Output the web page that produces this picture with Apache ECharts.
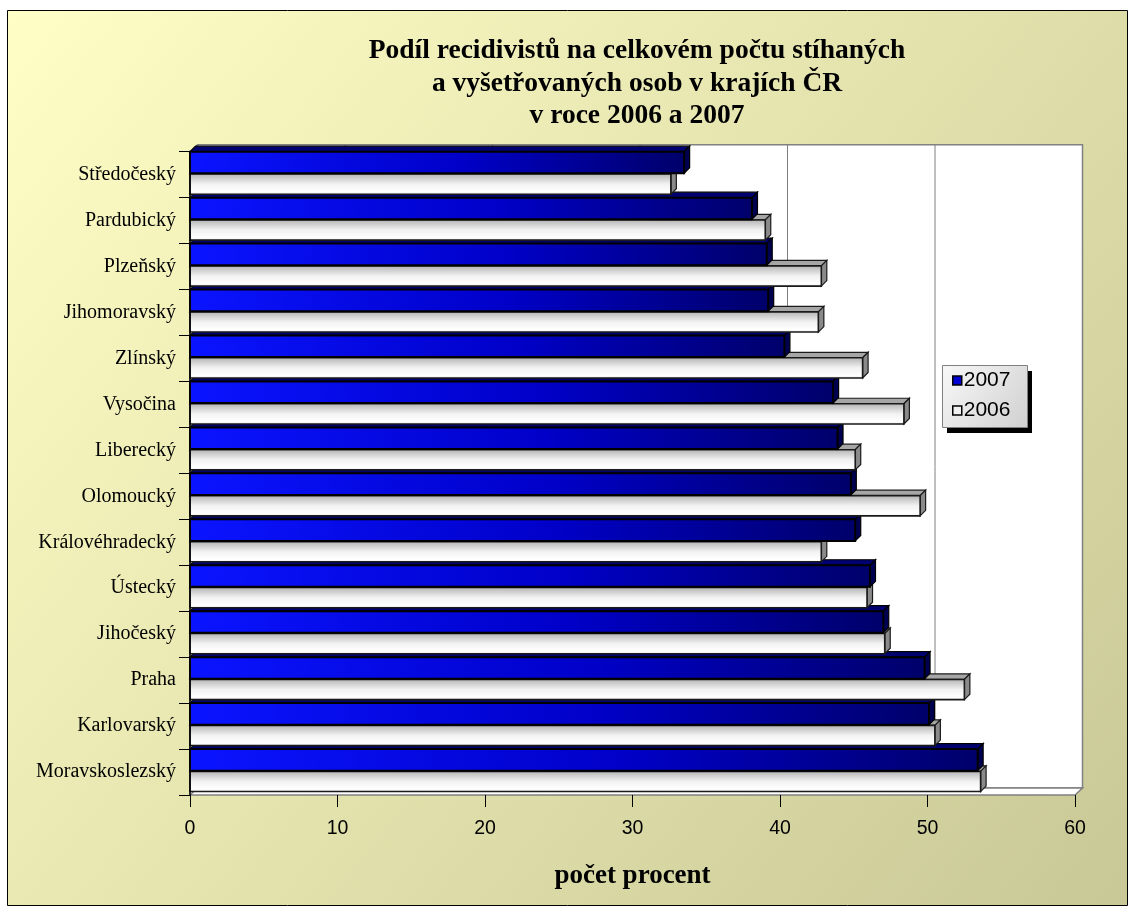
<!DOCTYPE html>
<html>
<head>
<meta charset="utf-8">
<script src="https://cdn.jsdelivr.net/npm/echarts@6/dist/echarts.min.js"></script>
<style>html,body{margin:0;padding:0;background:#fff}#c{width:1136px;height:916px}</style>
</head>
<body>
<div id="c"></div>
<script>
const categories = ['Středočeský','Pardubický','Plzeňský','Jihomoravský','Zlínský','Vysočina','Liberecký','Olomoucký','Královéhradecký','Ústecký','Jihočeský','Praha','Karlovarský','Moravskoslezský'];
const values2007 = [33.5, 38.1, 39.1, 39.2, 40.3, 43.6, 43.9, 44.8, 45.1, 46.1, 47.0, 49.8, 50.1, 53.4];
const values2006 = [32.6, 39.0, 42.8, 42.6, 45.6, 48.4, 45.1, 49.5, 42.8, 45.9, 47.1, 52.5, 50.5, 53.6];
const seriesNames = ['2007', '2006'];
const titleLines = ['Podíl recidivistů na celkovém počtu stíhaných', 'a vyšetřovaných osob v krajích ČR', 'v roce 2006 a 2007'];
const axisTitle = 'počet procent';
const xMin = 0, xMax = 60, xStep = 10;

const N = categories.length;
const BAR_D = 5.5;          // bar depth offset
const WALL_DX = 7.5, WALL_DY = -7;

const chart = echarts.init(document.getElementById('c'), null, {renderer: 'canvas'});

function lg(x, y, x2, y2, stops) {
  return {type: 'linear', x: x, y: y, x2: x2, y2: y2, colorStops: stops.map(s => ({offset: s[0], color: s[1]}))};
}

function barRender(is2007) {
  return function (params, api) {
    const ci = api.value(1);
    const v = api.value(0);
    const p0 = api.coord([0, ci]);
    const p1 = api.coord([v, ci]);
    const band = api.size([0, 1])[1];
    const T = p0[1] - band / 2;
    let y0, h;
    if (is2007) { y0 = T; h = band * 0.47; }
    else { y0 = T + band * 0.485; h = band * 0.44; }
    const x0 = p0[0], x1 = p1[0];
    const d = BAR_D;
    const base = (N - ci) * 10 + (is2007 ? 5 : 0);
    const frontFill = is2007
      ? lg(0, 0, 1, 1, [[0, '#0a14ff'], [0.55, '#0000c8'], [1, '#00006a']])
      : lg(0, 0, 0, 1, [[0, '#b0b0b0'], [0.5, '#f2f2f2'], [0.85, '#ffffff'], [1, '#e6e6e6']]);
    const stroke = is2007 ? '#000000' : '#1a1a1a';
    const lw = is2007 ? 2 : 1.6;
    return {
      type: 'group',
      children: [
        {
          type: 'polygon', z2: base + 1,
          shape: {points: [[x0, y0], [x0 + d, y0 - d], [x1 + d, y0 - d], [x1, y0]]},
          style: {fill: is2007 ? '#000070' : '#a6a6a6', stroke: stroke, lineWidth: 1.2}
        },
        {
          type: 'polygon', z2: base + 2,
          shape: {points: [[x1, y0], [x1 + d, y0 - d], [x1 + d, y0 + h - d], [x1, y0 + h]]},
          style: {fill: is2007 ? '#000050' : '#8a8a8a', stroke: stroke, lineWidth: 1.2}
        },
        {
          type: 'rect', z2: base + 3,
          shape: {x: x0, y: y0, width: x1 - x0, height: h},
          style: {fill: frontFill, stroke: stroke, lineWidth: lw}
        }
      ]
    };
  };
}

function wallRender(params, api) {
  const cs = params.coordSys;
  const L = cs.x, R = cs.x + cs.width, Tp = cs.y, B = cs.y + cs.height;
  const dx = WALL_DX, dy = WALL_DY;
  const children = [];
  children.push({type: 'rect', shape: {x: L + dx, y: Tp + dy, width: R - L, height: B - Tp},
    style: {fill: '#ffffff', stroke: '#808080', lineWidth: 1.5}});
  children.push({type: 'polygon', shape: {points: [[L, Tp], [L + dx, Tp + dy], [L + dx, B + dy], [L, B]]},
    style: {fill: '#ffffff', stroke: '#808080', lineWidth: 1}});
  children.push({type: 'polygon', shape: {points: [[L, B], [L + dx, B + dy], [R + dx, B + dy], [R, B]]},
    style: {fill: '#ffffff', stroke: '#808080', lineWidth: 1.5}});
  for (let v = xMin + xStep; v < xMax; v += xStep) {
    const x = api.coord([v, 0])[0] + dx;
    children.push({type: 'line', shape: {x1: x, y1: Tp + dy, x2: x, y2: B + dy},
      style: {stroke: '#808080', lineWidth: 1}});
  }
  return {type: 'group', children: children};
}

const option = {
  backgroundColor: '#ffffff',
  animation: false,
  graphic: [
    {
      type: 'rect', z: -10, silent: true,
      shape: {x: 7.5, y: 10.5, width: 1120, height: 895},
      style: {fill: lg(0, 0, 1, 1, [[0, '#fffec6'], [1, '#c8c896']]), stroke: '#000', lineWidth: 1}
    },
    {
      type: 'rect', z: 8, silent: true,
      shape: {x: 947, y: 371, width: 85, height: 62},
      style: {fill: '#000'}
    },
    {
      type: 'rect', z: 9, silent: true,
      shape: {x: 942.5, y: 365.5, width: 85, height: 62},
      style: {fill: lg(0, 0, 1, 1, [[0, '#f8f8f8'], [1, '#d0d0d0']]), stroke: '#808080', lineWidth: 1}
    }
  ],
  title: {
    text: titleLines.join('\n'),
    left: 632, top: 30, textAlign: 'center',
    textStyle: {fontFamily: 'Liberation Serif', fontWeight: 'bold', fontSize: 27.5, lineHeight: 32.5, color: '#000'}
  },
  legend: {
    orient: 'vertical',
    left: 952, top: 370,
    z: 10,
    padding: 0,
    itemGap: 9,
    itemWidth: 9, itemHeight: 9,
    icon: 'rect',
    textStyle: {fontFamily: 'Liberation Sans', fontSize: 21, lineHeight: 21, color: '#000', padding: [0, 0, 0, -3]},
    data: [
      {name: seriesNames[0], itemStyle: {color: '#0000d0', borderColor: '#000', borderWidth: 1.5}},
      {name: seriesNames[1], itemStyle: {color: '#f0f0f0', borderColor: '#000', borderWidth: 1.5}}
    ]
  },
  grid: {left: 190, right: 61, top: 151.7, bottom: 121, containLabel: false},
  xAxis: {
    type: 'value', min: xMin, max: xMax, interval: xStep,
    z: 5,
    axisLine: {show: false},
    axisTick: {show: true, length: 12, lineStyle: {color: '#000', width: 1}},
    splitLine: {show: false},
    axisLabel: {fontFamily: 'Liberation Sans', fontSize: 19.5, color: '#000', margin: 24},
    name: axisTitle, nameLocation: 'middle', nameGap: 68,
    nameTextStyle: {fontFamily: 'Liberation Serif', fontWeight: 'bold', fontSize: 27, color: '#000'}
  },
  yAxis: {
    type: 'category', data: categories, inverse: true,
    z: 5,
    axisLine: {show: true, lineStyle: {color: '#000', width: 1.5}},
    axisTick: {show: true, length: 11, lineStyle: {color: '#000', width: 1}},
    axisLabel: {fontFamily: 'Liberation Serif', fontSize: 20, color: '#000', margin: 14},
    splitLine: {show: false}
  },
  series: [
    {
      type: 'custom', name: 'walls', silent: true, z: 1,
      renderItem: wallRender, data: [[0, 0]], encode: {x: 0, y: 1}
    },
    {
      type: 'custom', name: seriesNames[0], z: 2,
      itemStyle: {color: '#0000d0', borderColor: '#000', borderWidth: 1.5},
      renderItem: barRender(true),
      data: values2007.map((v, i) => [v, i]), encode: {x: 0, y: 1}
    },
    {
      type: 'custom', name: seriesNames[1], z: 2,
      itemStyle: {color: '#f0f0f0', borderColor: '#000', borderWidth: 1.5},
      renderItem: barRender(false),
      data: values2006.map((v, i) => [v, i]), encode: {x: 0, y: 1}
    }
  ]
};
chart.setOption(option);
</script>
</body>
</html>
